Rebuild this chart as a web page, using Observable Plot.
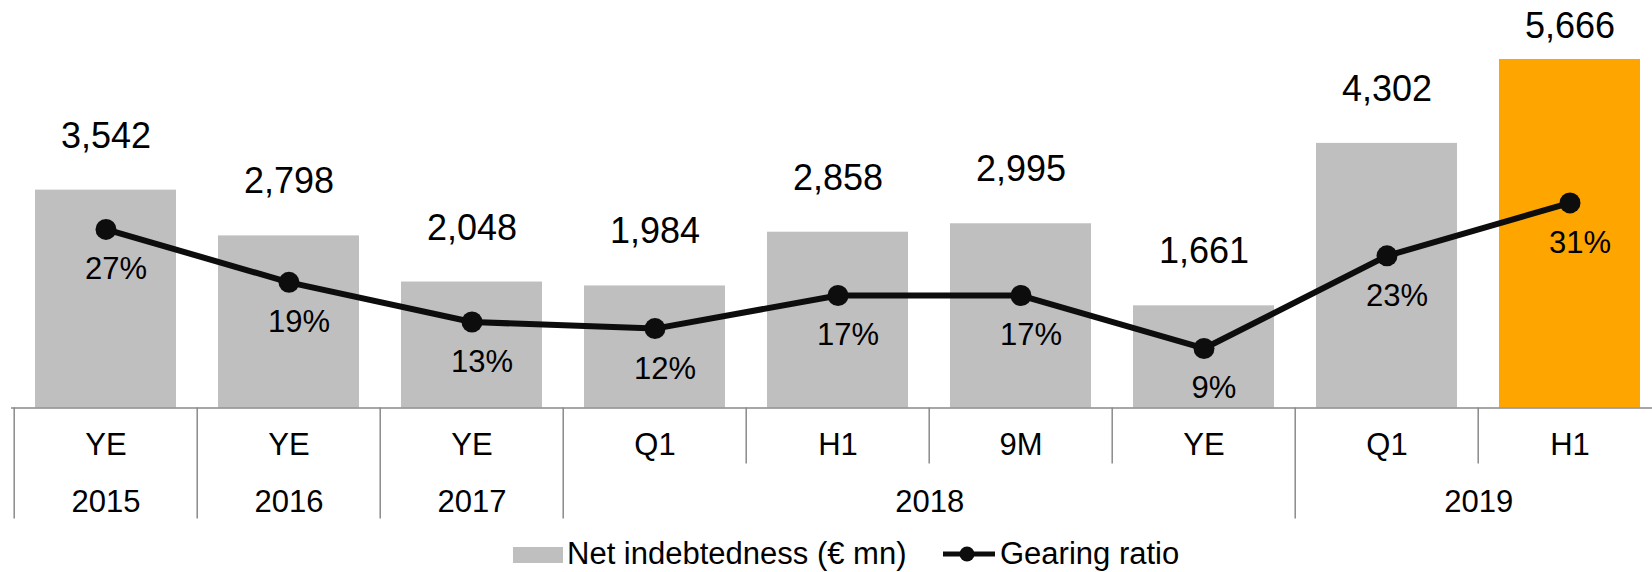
<!DOCTYPE html>
<html><head><meta charset="utf-8">
<script src="https://cdn.jsdelivr.net/npm/d3@7"></script>
<script src="https://cdn.jsdelivr.net/npm/@observablehq/plot@0.6"></script>
<style>
html,body{margin:0;padding:0;background:#fff;}
body{width:1652px;height:572px;overflow:hidden;font-family:"Liberation Sans",Arial,sans-serif;}
#legend{position:relative;height:36px;font-size:31px;line-height:36px;color:#000;}
#legend .sw{position:absolute;left:513px;top:11px;width:50px;height:16px;background:#bfbfbf;}
#legend .t1{position:absolute;left:567px;top:0;white-space:nowrap;}
#legend .ln{position:absolute;left:943px;top:8px;}
#legend .t2{position:absolute;left:1000px;top:0;white-space:nowrap;}
</style></head><body>
<div id="chart"></div>
<div id="legend">
  <div class="sw"></div><span class="t1">Net indebtedness (€ mn)</span>
  <svg class="ln" width="52" height="20"><line x1="0" y1="10" x2="52" y2="10" stroke="#0d0d0d" stroke-width="5"/><circle cx="24" cy="10" r="7.5" fill="#0d0d0d"/></svg>
  <span class="t2">Gearing ratio</span>
</div>
<script>
// ---- data ----
const periods = ["YE", "YE", "YE", "Q1", "H1", "9M", "YE", "Q1", "H1"];
const years = ["2015", "2016", "2017", "2018", "2018", "2018", "2018", "2019", "2019"];
const netDebt = [3542, 2798, 2048, 1984, 2858, 2995, 1661, 4302, 5666];
const gearing = [27, 19, 13, 12, 17, 17, 9, 23, 31];
const highlighted = [false, false, false, false, false, false, false, false, true];

// ---- layout ----
const W = 1652, H = 536;
const frameBottom = 407.5;
const xStart = 11, step = 183.6;
const xEnd = xStart + step * periods.length;
const yMax = 6625;          // debt axis top
const gearingMax = 61.6;    // secondary axis top (%)

const rows = periods.map((p, i) => ({
  key: p + " " + years[i], period: p, year: years[i],
  debt: netDebt[i], gearing: gearing[i], hi: highlighted[i], i,
  groupStart: i === 0 || years[i] !== years[i - 1]
}));
const keys = rows.map(d => d.key);

// year groups
const groups = [];
rows.forEach((d, i) => {
  if (d.groupStart) groups.push({year: d.year, start: i, n: 1});
  else groups[groups.length - 1].n++;
});
groups.forEach(g => { g.anchorKey = keys[g.start + Math.floor((g.n - 1) / 2)]; g.even = g.n % 2 === 0; });

const gY = d => d.gearing / gearingMax * yMax;
const fmt = d3.format(",");
const grey = "#8a8a8a";

const plot = Plot.plot({
  width: W, height: H,
  marginTop: 0, marginBottom: H - frameBottom, marginLeft: xStart, marginRight: 0,
  style: {fontFamily: "'Liberation Sans', Arial, sans-serif", background: "#fff", color: "#000", overflow: "visible"},
  x: {type: "band", domain: keys, range: [xStart, xEnd], paddingInner: 0.232, paddingOuter: 0.116, axis: null},
  y: {domain: [0, yMax], axis: null},
  marks: [
    Plot.barY(rows.filter(d => !d.hi), {x: "key", y: "debt", fill: "#bfbfbf"}),
    Plot.barY(rows.filter(d => d.hi), {x: "key", y: "debt", fill: "#ffa500"}),
    Plot.ruleY([0], {stroke: grey, strokeWidth: 1.5}),
    // table separators: first row only
    Plot.ruleX(rows.filter(d => !d.groupStart), {x: "key", dx: -step / 2, stroke: grey, strokeWidth: 1.5, insetTop: frameBottom, insetBottom: -56}),
    // table separators: both rows
    Plot.ruleX(rows.filter(d => d.groupStart), {x: "key", dx: -step / 2, stroke: grey, strokeWidth: 1.5, insetTop: frameBottom, insetBottom: -111}),
    // period labels
    Plot.text(rows, {x: "key", text: "period", frameAnchor: "bottom", lineAnchor: "middle", dy: 37, fontSize: 31, fill: "#000"}),
    // year labels
    Plot.text(groups.filter(g => !g.even), {x: "anchorKey", text: "year", frameAnchor: "bottom", lineAnchor: "middle", dy: 94, fontSize: 31, fill: "#000"}),
    Plot.text(groups.filter(g => g.even), {x: "anchorKey", text: "year", frameAnchor: "bottom", lineAnchor: "middle", dy: 94, dx: step / 2, fontSize: 31, fill: "#000"}),
    // gearing line
    Plot.line(rows, {x: "key", y: gY, stroke: "#0d0d0d", strokeWidth: 6}),
    Plot.dot(rows, {x: "key", y: gY, r: 10.5, fill: "#0d0d0d", stroke: "none"}),
    Plot.text(rows, {x: "key", y: gY, text: d => d.gearing + "%", dx: 10, dy: 40, fontSize: 31, fill: "#000"}),
    // debt labels
    Plot.text(rows.filter(d => !d.hi), {x: "key", y: "debt", text: d => fmt(d.debt), dy: -54, fontSize: 36, fill: "#000"}),
    Plot.text(rows.filter(d => d.hi), {x: "key", y: "debt", text: d => fmt(d.debt), dy: -33, fontSize: 36, fill: "#000"})
  ]
});
document.getElementById("chart").appendChild(plot);
</script>
</body></html>
